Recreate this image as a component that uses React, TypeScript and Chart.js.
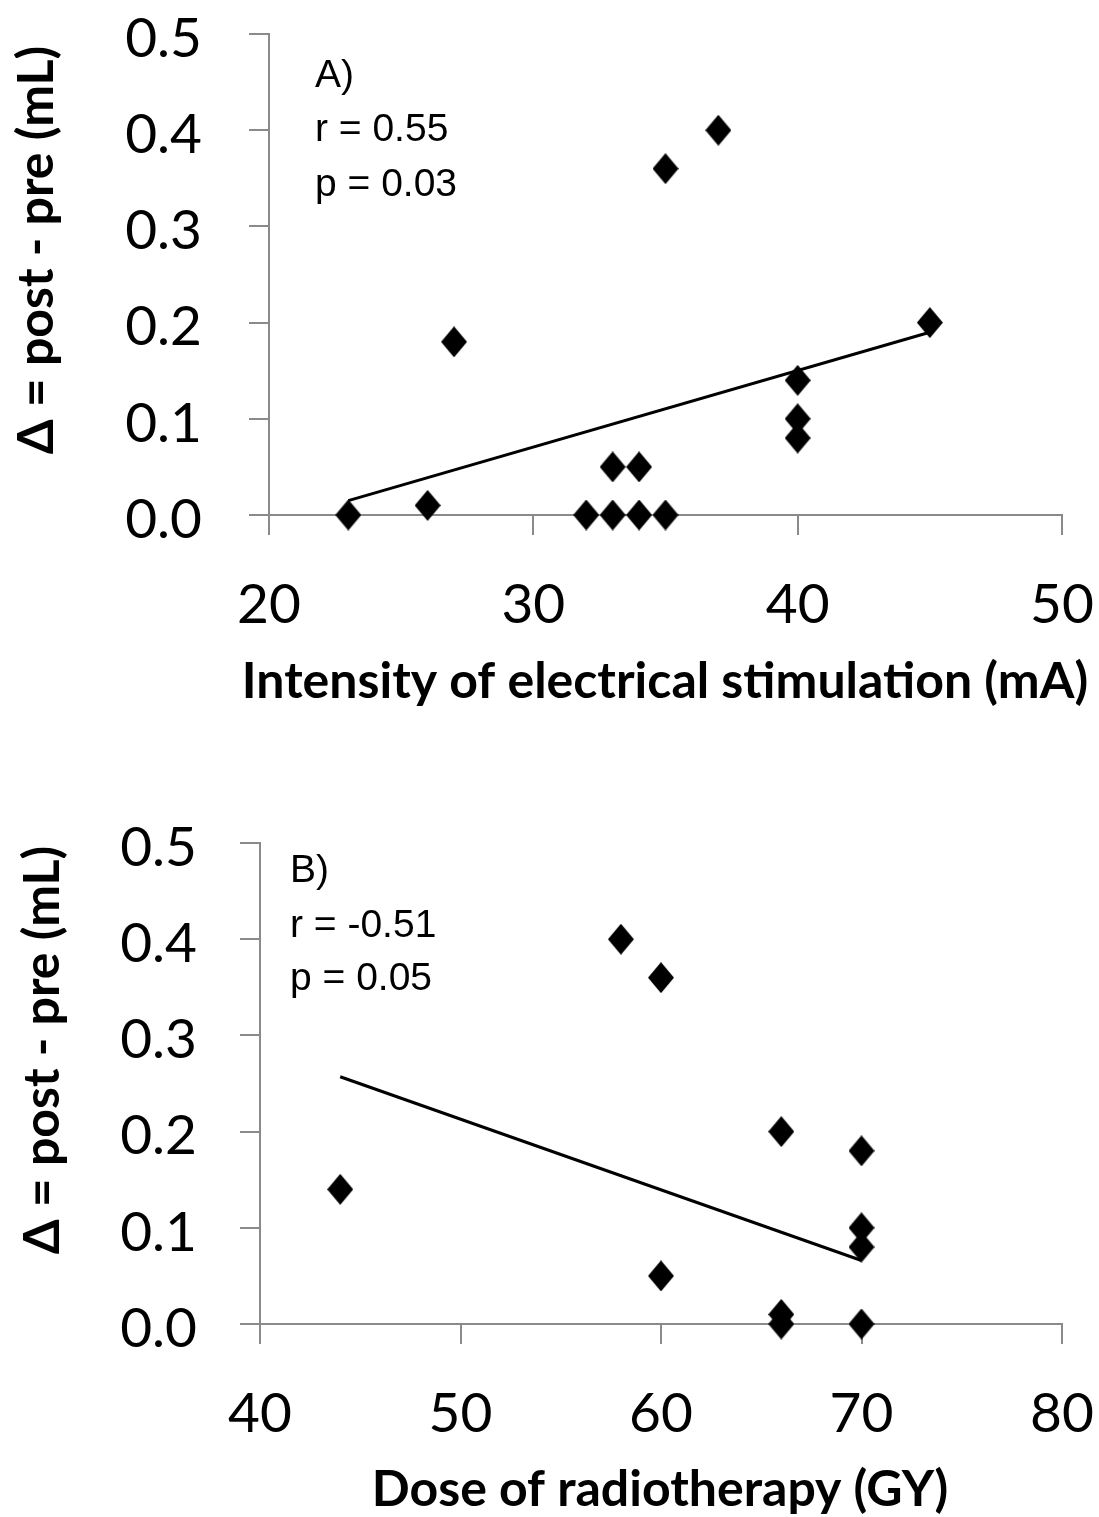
import React, { useEffect, useRef } from "react";
import { Chart, registerables } from "chart.js";

Chart.register(...registerables);

// ---- Panel A: intensity of electrical stimulation ----
const intensityX = [23, 26, 27, 32, 33, 34, 35, 33, 34, 35, 37, 40, 40, 40, 45];
const intensityDelta = [0.0, 0.01, 0.18, 0.0, 0.0, 0.0, 0.0, 0.05, 0.05, 0.36, 0.4, 0.14, 0.1, 0.08, 0.2];
const intensityTrendX = [23, 45];
const intensityTrendY = [0.015, 0.19];
const intensityTicks = [20, 30, 40, 50];
const intensityNotes = ["A)", "r = 0.55", "p = 0.03"];

// ---- Panel B: dose of radiotherapy ----
const doseX = [44, 58, 60, 60, 66, 66, 66, 70, 70, 70, 70];
const doseDelta = [0.14, 0.4, 0.36, 0.05, 0.2, 0.01, 0.0, 0.18, 0.1, 0.08, 0.0];
const doseTrendX = [44, 70];
const doseTrendY = [0.257, 0.066];
const doseTicks = [40, 50, 60, 70, 80];
const doseNotes = ["B)", "r = -0.51", "p = 0.05"];

const yTicks = [0, 0.1, 0.2, 0.3, 0.4, 0.5];
const yTitle = "Δ = post - pre (mL)";

const AXIS_GREY = "#8a8a8a";

function makeDiamond(w: number, h: number) {
  const c = document.createElement("canvas");
  c.width = w;
  c.height = h;
  const g = c.getContext("2d")!;
  g.fillStyle = "#000";
  g.beginPath();
  g.moveTo(w / 2, 0);
  g.lineTo(w, h / 2);
  g.lineTo(w / 2, h);
  g.lineTo(0, h / 2);
  g.closePath();
  g.fill();
  return c;
}

const textPlugin = {
  id: "panelText",
  afterDraw(chart: any, _args: any, opts: any) {
    const ctx = chart.ctx;
    ctx.save();
    ctx.fillStyle = "#000";
    // annotation block
    ctx.font = "39px 'Liberation Sans', Arial, sans-serif";
    ctx.textAlign = "left";
    ctx.textBaseline = "alphabetic";
    (opts.notes || []).forEach((t: string, i: number) => {
      ctx.fillText(t, opts.notesX, opts.notesBaselines[i]);
    });
    // x axis title
    ctx.font = `bold ${opts.xTitleSize}px Lato, 'Open Sans', sans-serif`;
    ctx.textAlign = "center";
    ctx.fillText(opts.xTitle, opts.xTitleX, opts.xTitleBaseline);
    // y axis title (rotated)
    ctx.translate(opts.yTitleX, opts.yTitleY);
    ctx.rotate(-Math.PI / 2);
    ctx.font = "bold 50px Lato, 'Open Sans', sans-serif";
    ctx.textAlign = "center";
    ctx.textBaseline = "alphabetic";
    ctx.fillText(yTitle, 0, 0);
    ctx.restore();
  },
};

interface PanelProps {
  xs: number[];
  ys: number[];
  tx: number[];
  ty: number[];
  xTicks: number[];
  xTitle: string;
  xTitleSize: number;
  xTitleX: number;
  xTitleBaseline: number;
  notes: string[];
  notesX: number;
  notesBaselines: number[];
  yAxisWidth: number;
  yLabelPad: number;
  yTitleX: number;
  yTitleY: number;
  height: number;
  padBottom: number;
}

function Panel(p: PanelProps) {
  const ref = useRef<HTMLCanvasElement | null>(null);
  useEffect(() => {
    if (!ref.current) return;
    const diamond = makeDiamond(26, 31);
    const points = p.xs.map((x, i) => ({ x, y: p.ys[i] }));
    const trend = p.tx.map((x, i) => ({ x, y: p.ty[i] }));
    const gridOpts = {
      display: true,
      drawOnChartArea: false,
      drawTicks: true,
      tickLength: 20,
      color: AXIS_GREY,
      lineWidth: 2,
    };
    const chart = new Chart(ref.current, {
      type: "scatter",
      data: {
        datasets: [
          {
            data: points,
            pointStyle: diamond as any,
            pointRadius: 14,
            backgroundColor: "#000",
            borderColor: "#000",
            clip: false as any,
            order: 0,
          },
          {
            data: trend,
            showLine: true,
            borderColor: "#000",
            borderWidth: 3,
            pointRadius: 0,
            clip: false as any,
            order: 1,
          } as any,
        ],
      },
      options: {
        animation: false,
        responsive: false,
        devicePixelRatio: 1,
        layout: { padding: { top: 34, right: 37, left: 0, bottom: p.padBottom } },
        plugins: {
          legend: { display: false },
          tooltip: { enabled: false },
          panelText: {
            notes: p.notes,
            notesX: p.notesX,
            notesBaselines: p.notesBaselines,
            xTitle: p.xTitle,
            xTitleSize: p.xTitleSize,
            xTitleX: p.xTitleX,
            xTitleBaseline: p.xTitleBaseline,
            yTitleX: p.yTitleX,
            yTitleY: p.yTitleY,
          },
        } as any,
        scales: {
          x: {
            type: "linear",
            min: p.xTicks[0],
            max: p.xTicks[p.xTicks.length - 1],
            afterBuildTicks: (s: any) => {
              s.ticks = p.xTicks.map((v) => ({ value: v }));
            },
            ticks: {
              color: "#000",
              font: { family: "Lato", size: 55 },
              padding: 37,
              maxRotation: 0,
              autoSkip: false,
              callback: (v: any) => String(v),
            },
            grid: gridOpts as any,
            border: { display: true, color: AXIS_GREY, width: 2 },
            title: { display: false },
            afterFit: (s: any) => {
              s.height = 193;
              s.paddingLeft = 0;
              s.paddingRight = 0;
              s.paddingTop = 0;
              s.paddingBottom = 0;
            },
          },
          y: {
            type: "linear",
            min: 0,
            max: 0.5,
            afterBuildTicks: (s: any) => {
              s.ticks = yTicks.map((v) => ({ value: v }));
            },
            ticks: {
              color: "#000",
              font: { family: "Lato", size: 55 },
              padding: p.yLabelPad,
              labelOffset: 5,
              autoSkip: false,
              callback: (v: any) => Number(v).toFixed(1),
            },
            grid: gridOpts as any,
            border: { display: true, color: AXIS_GREY, width: 2 },
            afterFit: (s: any) => {
              s.width = p.yAxisWidth;
              s.paddingLeft = 0;
              s.paddingRight = 0;
              s.paddingTop = 0;
              s.paddingBottom = 0;
            },
          },
        },
      },
      plugins: [textPlugin],
    });
    return () => chart.destroy();
  }, []);
  return (
    <canvas
      ref={ref}
      width={1099}
      height={p.height}
      style={{ display: "block", width: 1099, height: p.height }}
    />
  );
}

export default function App() {
  useEffect(() => {
    document.body.style.margin = "0";
    document.body.style.background = "#fff";
  }, []);
  return (
    <div style={{ width: 1099, height: 1517, background: "#fff" }}>
      <Panel
        xs={intensityX}
        ys={intensityDelta}
        tx={intensityTrendX}
        ty={intensityTrendY}
        xTicks={intensityTicks}
        xTitle="Intensity of electrical stimulation (mA)"
        xTitleSize={50}
        xTitleX={665}
        xTitleBaseline={698}
        notes={intensityNotes}
        notesX={315}
        notesBaselines={[87, 141, 196]}
        yAxisWidth={269}
        yLabelPad={47}
        yTitleX={53}
        yTitleY={250}
        height={809}
        padBottom={101}
      />
      <Panel
        xs={doseX}
        ys={doseDelta}
        tx={doseTrendX}
        ty={doseTrendY}
        xTicks={doseTicks}
        xTitle="Dose of radiotherapy (GY)"
        xTitleSize={50}
        xTitleX={660}
        xTitleBaseline={697}
        notes={doseNotes}
        notesX={290}
        notesBaselines={[73, 128, 181]}
        yAxisWidth={260}
        yLabelPad={43}
        yTitleX={59}
        yTitleY={241}
        height={708}
        padBottom={0}
      />
    </div>
  );
}
